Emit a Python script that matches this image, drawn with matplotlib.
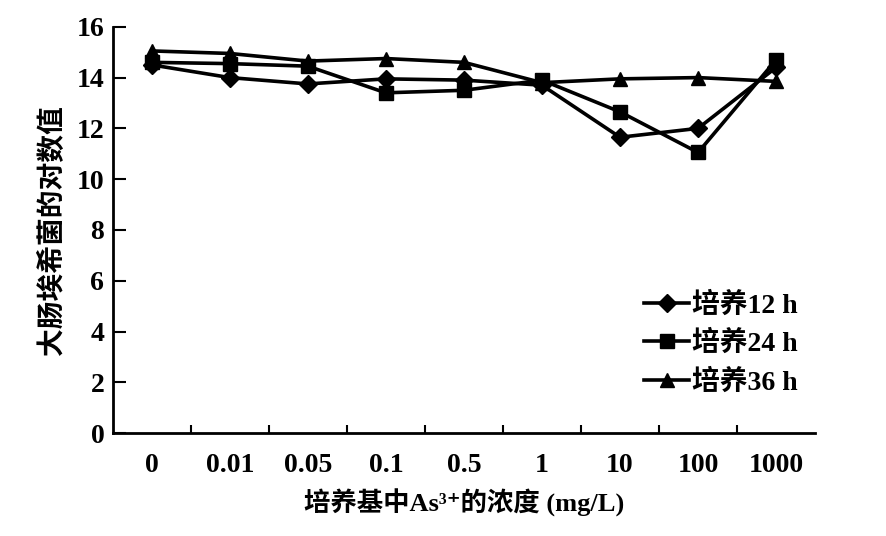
import numpy as np
import matplotlib
matplotlib.use('Agg')
import matplotlib.pyplot as plt

plt.rcParams['font.family'] = ['Liberation Serif', 'Noto Sans CJK SC', 'DejaVu Serif']

conc = ['0', '0.01', '0.05', '0.1', '0.5', '1', '10', '100', '1000']
h12 = [14.5, 14.0, 13.75, 13.95, 13.9, 13.7, 11.65, 12.0, 14.4]
h24 = [14.6, 14.55, 14.45, 13.4, 13.5, 13.9, 12.65, 11.05, 14.7]
h36 = [15.05, 14.95, 14.65, 14.75, 14.6, 13.8, 13.95, 14.0, 13.85]

fig = plt.figure(figsize=(8.87, 5.36), dpi=100)
ax = fig.add_axes([0.127, 0.192, 0.792, 0.758])

x = np.arange(len(conc))
ax.plot(x, h12, color='black', lw=2.6, marker='D', ms=9, label='培养12 h')
ax.plot(x, h24, color='black', lw=2.6, marker='s', ms=9.5, label='培养24 h')
ax.plot(x, h36, color='black', lw=2.6, marker='^', ms=10, label='培养36 h')

ax.set_xlim(-0.5, 8.5)
ax.set_ylim(0, 16)
ax.set_yticks(range(0, 17, 2))
ax.set_xticks(x)
ax.set_xticklabels(conc)
ax.set_xticks(np.arange(0.5, 8.5, 1), minor=True)
ax.tick_params(axis='x', which='major', length=0, pad=14)
ax.tick_params(axis='x', which='minor', direction='in', length=6, width=1.5)
ax.tick_params(axis='y', direction='in', length=9, width=1.5, pad=6)
for lab in ax.get_xticklabels() + ax.get_yticklabels():
    lab.set_fontsize(20)
    lab.set_fontweight('bold')

for s in ['top', 'right']:
    ax.spines[s].set_visible(False)
for s in ['left', 'bottom']:
    ax.spines[s].set_linewidth(2)

ax.set_ylabel('大肠埃希菌的对数值', fontsize=20, fontweight='bold', labelpad=8)
ax.set_xlabel('培养基中As³⁺的浓度 (mg/L)', fontsize=19, fontweight='bold', labelpad=8)

ax.legend(loc='lower right', bbox_to_anchor=(1.01, 0.03), frameon=False,
          handlelength=1.6, handletextpad=0.1, labelspacing=0.45,
          prop={'size': 20, 'weight': 'bold'})

fig.savefig('out.png', dpi=100)
